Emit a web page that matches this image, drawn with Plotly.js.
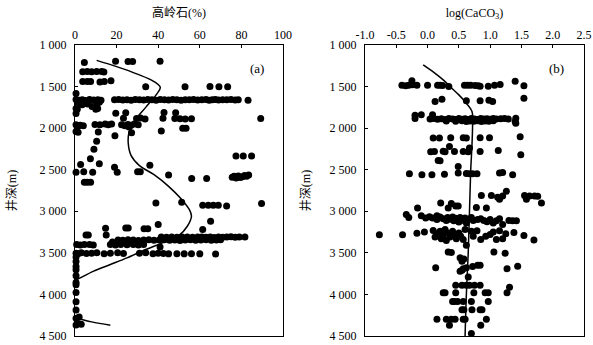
<!DOCTYPE html>
<html>
<head>
<meta charset="utf-8">
<script src="https://cdn.plot.ly/plotly-3.0.1.min.js"></script>
<style>html,body{margin:0;padding:0;background:#fff;}#chart{width:593px;height:345px;}</style>
</head>
<body>
<div id="chart"></div>
<script>
// Panel (a): kaolinite % vs well depth (m)
const kaolinitePts = [
  [4.5,1210],[19.5,1195],[25.5,1198],[27.7,1198],[40.9,1195],
  [3.7,1322],[5.9,1320],[8,1322],[10.4,1318],[12.8,1320],[13.9,1325],
  [3.7,1440],[5.9,1438],[7.5,1440],[12,1445],[14.1,1438],[17.3,1430],
  [34,1503],[52.9,1503],[64.9,1500],[69.2,1503],[73.4,1503],
  [0.5,1583],
  [0.5,1655],[2,1665],[3.5,1660],[5,1668],[7,1655],[9,1662],[11,1658],[12.5,1665],
  [19,1660],[21,1655],[23,1662],[25,1658],[27,1665],[29,1655],[31,1660],[33,1662],[35,1655],[37,1660],
  [39,1665],[41,1655],[43,1660],[45,1662],[47,1656],[49,1660],[51,1665],[53,1658],[55,1660],[57,1655],
  [59,1662],[61,1660],[63,1655],[64.5,1665],[66,1660],[67.5,1655],[69,1662],[71,1658],[73,1660],
  [75,1655],[77,1662],[78.5,1658],[83.2,1665],
  [1.3,1700],[3.4,1720],[6.1,1710],[8.2,1740],[10.6,1705],[11.7,1690],[10.9,1764],[0.5,1764],
  [0.5,1825],[1.1,1772],[10,1772],
  [19.6,1820],[24.4,1815],[42.8,1812],[48.4,1815],
  [23.3,1880],[29.6,1885],[31.5,1878],[33.7,1890],[42.3,1880],[48,1885],[50.5,1888],[53,1890],[56,1888],[89.3,1884],
  [0.5,1960],[1.5,1975],[2.5,1965],[4,1970],[9.6,1955],[12,1960],[14.5,1950],[16,1958],[17.6,1950],
  [22.4,1960],[24,1970],[25.5,1955],[27,1965],[28.5,1950],[30.4,1958],[26,1985],[51.8,2000],[53.4,2000],
  [41.5,2035],[0.5,2040],[1.5,2050],[11.2,2045],[27.2,2055],
  [19.2,2090],[10.4,2158],[9.1,2255],
  [77.4,2335],[80.9,2335],[84.9,2335],
  [7.4,2368],[2.7,2437],[11.7,2428],[19,2470],[36,2445],
  [0.5,2530],[4.2,2525],[8.5,2530],[20.3,2530],[30.1,2525],[31.4,2525],
  [45,2565],[56.1,2605],[63.3,2605],[75.6,2590],[76.5,2580],[77.5,2600],[78.5,2575],[79.5,2595],
  [80.5,2585],[81.5,2570],[82.5,2580],[83.5,2565],
  [4.5,2650],[5.9,2650],[7.5,2650],
  [38.9,2899],[51.3,2892],[61.4,2928],[64.1,2928],[66.5,2928],[68.9,2928],[72.9,2935],[89.7,2907],
  [65.2,3120],[40,3160],
  [14.7,3205],[24.4,3200],[25.6,3200],[33.2,3210],[35,3210],[61.4,3220],
  [5.3,3285],[6.4,3285],[15,3285],
  [41.5,3310],[44,3312],[46.5,3308],[49,3312],[51.5,3310],[54,3308],[56.5,3312],[59,3310],[61,3308],
  [63,3312],[65,3310],[67,3314],[69,3308],[71,3312],[73,3310],[75,3306],[77,3312],[79,3310],[81.7,3308],
  [20.7,3345],[23,3348],[25.5,3342],[28,3345],[30.5,3350],[33,3345],[35.5,3342],[38,3348],[40.5,3345],
  [43,3342],[45.5,3348],[48,3345],[50.5,3350],[53,3345],[55.5,3342],[58,3348],[60.5,3345],[63,3342],
  [65.5,3348],[68,3345],[70,3342],
  [18,3370],[22,3375],[27,3365],[31,3370],
  [0.8,3400],[2.5,3405],[4.5,3400],[7,3398],[8.8,3405],[17,3400],[19.5,3405],[22,3398],[25,3402],
  [28,3400],[30.5,3405],[33,3400],
  [40.9,3430],
  [0.5,3505],[1.5,3510],[3,3500],[5.5,3508],[8,3505],[10.5,3500],[14,3510],[17,3505],[20.5,3500],
  [23.3,3508],[31,3505],[34,3500],[37.5,3510],[40,3505],[42.5,3508],[45,3512],[49,3510],[52.5,3512],
  [56,3510],[60,3512],[67.6,3515],
  [0.5,3551],[0.5,3603],[0.5,3664],[0.5,3704],[0.5,3776],[0.5,3857],[0.5,3885],[0.5,3978],
  [0.5,4087],[0.5,4187],[0.5,4287],[2,4270],[0.5,4368],[1.5,4350],[3,4360]
];
// fitted trend curve (a); null marks the gap where the fit leaves the axis
const kaoliniteCurveX = [10.4,20,30,38,41,39,34,29,26,25.6,27,31,38,45,51,55,56,54,50,42,34,25,17,9,2.5,0,null,0,8,17];
const kaoliniteCurveDepth = [1185,1260,1350,1440,1510,1600,1750,1900,2050,2180,2330,2450,2560,2700,2850,2980,3060,3180,3290,3380,3460,3560,3640,3720,3800,3830,null,4280,4330,4370];

// Panel (b): log(CaCO3) vs well depth (m)
const caco3Pts = [
  [-0.25,1430],[-0.41,1483],[-0.35,1490],[-0.3,1483],[-0.24,1478],[-0.17,1485],[0.0,1483],[0.16,1485],
  [0.2,1483],[0.24,1487],[0.34,1500],[0.59,1483],[0.64,1485],[0.69,1483],[0.76,1488],[0.81,1490],
  [0.84,1495],[0.97,1495],[1.07,1483],[1.16,1475],[1.40,1435],[1.54,1490],
  [0.12,1680],[0.23,1652],[0.62,1670],[0.84,1670],[0.98,1665],[1.04,1680],[1.54,1640],
  [-0.2,1845],[-0.1,1840],[-0.2,1885],[0.08,1840],
  [0.04,1890],[0.1,1885],[0.16,1892],[0.22,1888],[0.28,1895],[0.34,1885],[0.4,1890],[0.45,1895],
  [0.5,1885],[0.55,1892],[0.6,1888],[0.65,1895],[0.7,1885],[0.75,1890],[0.8,1895],[0.85,1885],
  [0.9,1890],[0.95,1888],[1.0,1892],[1.05,1885],[1.1,1890],[1.17,1888],[1.23,1885],[1.29,1890],
  [0.3,1915],[0.45,1918],[0.55,1912],[0.62,1920],[0.68,1915],[0.74,1918],[0.8,1912],[0.86,1920],
  [0.92,1915],[0.98,1918],[1.05,1912],
  [1.41,1880],[1.41,1940],[1.4,1920],
  [0.09,2120],[0.19,2120],[0.37,2115],[0.57,2115],[0.62,2120],[0.84,2115],[0.99,2115],[1.48,2105],
  [0.35,2220],[0.67,2240],[0.05,2285],[0.11,2280],[0.25,2278],[0.28,2285],[0.43,2282],[0.57,2280],
  [0.65,2285],[0.84,2282],[1.13,2270],[1.49,2320],
  [0.17,2390],[0.2,2392],[0.49,2460],
  [-0.29,2549],[-0.09,2560],[0.07,2560],[0.27,2555],[0.49,2540],[0.62,2545],[0.67,2548],[0.72,2550],
  [0.79,2548],[1.15,2540],[1.2,2535],[1.36,2560],
  [1.26,2759],[0.86,2810],[1.02,2810],[1.12,2830],[1.15,2855],[1.2,2815],[1.55,2810],[1.63,2815],
  [1.71,2815],[1.76,2820],[1.58,2855],
  [1.82,2899],[0.21,2899],[0.38,2905],[0.45,2935],[0.49,2935],[-0.16,2960],[0.33,2959],[0.78,2955],[0.94,2960],
  [-0.34,3040],[-0.3,3076],[-0.1,3055],[0.03,3065],[0.15,3055],[-0.03,3080],
  [0.08,3080],[0.15,3100],[0.2,3070],[0.25,3090],[0.3,3110],[0.32,3075],[0.36,3095],[0.4,3070],
  [0.42,3115],[0.45,3085],[0.48,3100],[0.5,3130],[0.52,3075],[0.55,3095],[0.58,3110],[0.6,3080],
  [0.62,3140],[0.65,3095],[0.7,3075],[0.73,3110],[0.8,3100],[0.85,3090],[0.9,3110],[0.95,3125],
  [1.0,3100],[1.05,3140],[1.1,3115],[1.15,3090],[1.2,3160],[1.3,3110],[1.36,3115],[1.42,3115],
  [-0.77,3281],[-0.4,3281],[-0.17,3265],[-0.05,3250],[0.09,3230],[0.15,3270],[0.2,3240],[0.25,3290],
  [0.28,3220],[0.32,3260],[0.36,3310],[0.4,3240],[0.43,3280],[0.46,3330],[0.5,3260],[0.53,3300],
  [0.57,3340],[0.6,3220],[0.7,3240],[0.73,3300],[0.79,3235],[0.85,3340],[0.93,3300],[1.0,3280],
  [1.05,3250],[1.1,3340],[1.15,3235],[1.2,3330],[1.25,3270],[1.38,3255],[1.54,3290],[1.7,3345],
  [0.22,3330],[0.3,3350],[0.12,3310],
  [0.62,3410],
  [0.33,3490],[0.38,3495],[1.06,3490],[1.24,3505],[0.52,3560],[0.55,3600],[0.58,3575],
  [0.13,3680],[0.57,3690],[0.62,3680],[0.72,3665],[0.8,3650],[0.84,3650],[1.27,3690],[1.44,3660],
  [0.52,3720],[0.55,3710],
  [0.65,3790],
  [0.45,3890],[0.55,3890],[0.62,3890],[0.67,3890],[0.75,3890],[0.84,3890],[1.31,3915],
  [0.25,3980],[0.28,3980],[0.45,3980],[0.74,3980],[0.92,3980],[0.97,3980],[1.27,3980],
  [0.4,4085],[0.43,4085],[0.48,4085],[0.57,4085],[0.7,4085],[0.97,4085],
  [0.55,4185],[0.58,4185],[0.71,4185],[0.84,4185],[0.87,4185],
  [0.15,4300],[0.3,4300],[0.38,4300],[0.44,4300],[0.57,4300],[0.6,4300],[0.94,4300],
  [0.35,4370],[0.85,4370],
  [0.7,4470]
];
const caco3CurveX = [-0.07,0.1,0.25,0.36,0.5,0.62,0.71,0.72,0.71,0.69,0.67,0.65,0.62,0.60];
const caco3CurveDepth = [1240,1330,1420,1500,1600,1700,1800,1900,2200,2500,3000,3500,4000,4500];

const depthTicks = [1000,1500,2000,2500,3000,3500,4000,4500];
const depthTickText = ['1 000','1 500','2 000','2 500','3 000','3 500','4 000','4 500'];
const kaolTicks = [0,20,40,60,80,100];
const caco3Ticks = [-1.0,-0.5,0.0,0.5,1.0,1.5,2.0,2.5];
const caco3TickText = ['-1.0','-0.5','0.0','0.5','1.0','1.5','2.0','2.5'];

const FONT = 'Liberation Serif, Noto Sans CJK SC, serif';
const marker = {color:'#000', size:7, line:{width:0}};

const traces = [
  {type:'scatter', mode:'markers', x:kaolinitePts.map(p=>p[0]), y:kaolinitePts.map(p=>p[1]),
   marker:marker, cliponaxis:false, xaxis:'x', yaxis:'y', hoverinfo:'skip'},
  {type:'scatter', mode:'lines', x:kaoliniteCurveX, y:kaoliniteCurveDepth,
   line:{color:'#000', width:1.5, shape:'spline'}, connectgaps:false, xaxis:'x', yaxis:'y', hoverinfo:'skip'},
  {type:'scatter', mode:'markers', x:caco3Pts.map(p=>p[0]), y:caco3Pts.map(p=>p[1]),
   marker:marker, cliponaxis:false, xaxis:'x2', yaxis:'y2', hoverinfo:'skip'},
  {type:'scatter', mode:'lines', x:caco3CurveX, y:caco3CurveDepth,
   line:{color:'#000', width:1.5, shape:'spline'}, xaxis:'x2', yaxis:'y2', hoverinfo:'skip'}
];

const axisCommon = {showline:true, mirror:true, linecolor:'#000', linewidth:1, ticks:'inside',
  ticklen:3, tickcolor:'#000', showgrid:false, zeroline:false, tickfont:{family:FONT, size:12, color:'#000'}};

const layout = {
  width:593, height:345,
  margin:{l:75, r:9, t:45, b:9},
  paper_bgcolor:'#fff', plot_bgcolor:'#fff',
  showlegend:false,
  font:{family:FONT, size:12, color:'#000'},
  xaxis:Object.assign({}, axisCommon, {domain:[0,0.4086], range:[0,100], side:'top', anchor:'y',
    tickvals:kaolTicks, title:{text:'高岭石(%)', font:{family:FONT, size:12}, standoff:8}}),
  yaxis:Object.assign({}, axisCommon, {domain:[0,1], range:[4500,1000], anchor:'x',
    tickvals:depthTicks, ticktext:depthTickText, ticklabelstandoff:5,
    title:{text:'井深(m)', font:{family:FONT, size:12}, standoff:20}}),
  xaxis2:Object.assign({}, axisCommon, {domain:[0.5697,1], range:[-1,2.5], side:'top', anchor:'y2',
    tickvals:caco3Ticks, ticktext:caco3TickText, title:{text:'log(CaCO<sub>3</sub>)', font:{family:FONT, size:12}, standoff:8}}),
  yaxis2:Object.assign({}, axisCommon, {domain:[0,1], range:[4500,1000], anchor:'x2',
    tickvals:depthTicks, ticktext:depthTickText, ticklabelstandoff:5,
    title:{text:'井深(m)', font:{family:FONT, size:12}, standoff:16}}),
  annotations:[
    {text:'(a)', xref:'x domain', yref:'y domain', x:0.92, y:0.952, showarrow:false, font:{family:FONT, size:13}},
    {text:'(b)', xref:'x2 domain', yref:'y2 domain', x:0.92, y:0.952, showarrow:false, font:{family:FONT, size:13}}
  ]
};

Plotly.newPlot('chart', traces, layout, {staticPlot:true, displayModeBar:false});
</script>
</body>
</html>
